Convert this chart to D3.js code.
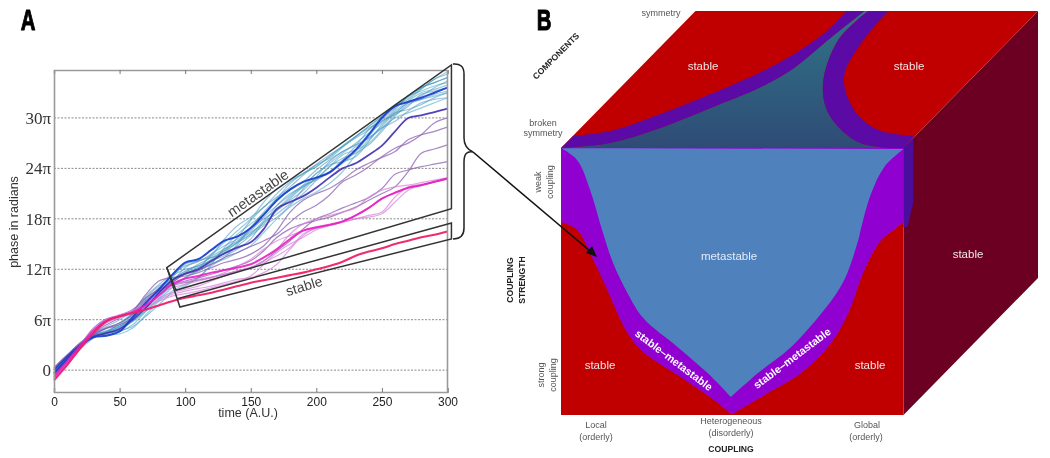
<!DOCTYPE html>
<html><head><meta charset="utf-8">
<script src="https://cdnjs.cloudflare.com/ajax/libs/d3/7.8.5/d3.min.js"></script>
<style>html,body{margin:0;padding:0;background:#fff}svg{display:block;filter:blur(.4px)}</style></head>
<body><svg id="c" width="1050" height="458"></svg>
<script>
// ---------- PANEL A DATA (phase in units of pi, sampled every 10 A.U.) ----------
const timeGrid = d3.range(31).map(i => i * 10);
const xTicks = [0, 50, 100, 150, 200, 250, 300];
const yTicks = [0, 6, 12, 18, 24, 30];

const cyanLines = [
 [-0.2,1.4,3,4.1,4.2,4.3,5,6.6,8.2,9.4,10.2,11,12.6,14.6,16.2,17.4,18.6,20.4,22.2,23.4,24.2,25.4,26.7,27.8,29,30.2,31.3,32.4,33.5,34.6,35.5],
 [0.1,1.7,3.2,4.2,4.6,5.2,6.6,8.4,9.8,11.2,12,12.4,13.6,15.6,17.2,18.2,19.4,21,22.4,23.4,24.5,25.6,26.6,27.6,28.6,29.8,31.2,32.6,33.6,34.2,34.8],
 [-0.5,1.1,2.9,4,4.5,5.6,6.8,8.3,9.4,10.6,11.4,12.2,13.2,14.2,15.8,17.8,19.4,20.6,21.8,23.2,24.4,25.2,26.5,27.8,28.8,29.6,31,32.6,33.6,34.2,34.8],
 [0.3,1.8,3.2,4.2,5,5.6,6.6,8.4,9.7,11,12.6,13,13.6,14.4,15.2,16.2,17.8,19.2,20.6,22,23.4,24.6,25.8,27,28.2,29.4,30.8,32,33,33.4,33.9],
 [-0.3,1.4,3,4.4,5,5.2,6.2,7.8,9.2,10.6,11.8,12.4,13,13.6,14.4,15.6,17.6,18.6,19.8,21,22.6,24.2,25.2,25.8,26.8,28.4,30.2,31.6,32.2,32.8,33.2],
 [-0.9,0.9,2.5,3.8,4.6,5.1,6.2,7.6,8.8,10.4,12.2,13,13.4,13.8,14.8,16,17.2,18.2,19.6,21.6,23.4,24.4,24.8,25.4,27.2,29.2,30.6,31,31.6,32.4,33],
 [0,1.6,3.1,4.3,4.4,4.6,5.4,7,8.6,10,11,12,13.8,15.2,16.6,18,20,21.6,22.6,23.4,24.2,25.4,26.6,27.8,29,30.2,31.6,32.6,33.2,33.8,34.2],
 [0.2,1.7,3.3,4.4,5.2,6,7,8.8,10.2,11.4,12.4,12.9,13.8,14.8,15.6,16.6,18.2,19.6,20.8,22,22.6,23.6,25,26.6,27.6,28.8,29.6,30.8,31.8,32.2,32.4],
 [-0.1,1.5,3,4,4.3,4.8,5.8,7.2,9,10.4,11.6,12.6,13.4,14.2,15.2,17,18.8,20.4,21.4,22.4,23.8,25,26,26.8,28.6,30,31.4,32.2,33.4,34.6,35.2],
 [-0.6,1,2.8,3.9,4.4,5,5.8,7,8.4,9.8,11,11.8,12.6,13.2,14,14.8,16.4,18,19.4,20.4,21.2,22.2,23.6,25.6,27.4,28.8,30,30.6,31.2,31.8,32.4],
 [-0.2,1.5,3.1,4.2,4.4,4.7,5.2,6.4,7.8,9.2,10,11,12.4,13.4,15,16.8,18,19,20.2,21.4,23,24.8,26,26.8,27.6,29,30.6,31.8,32.6,33.6,34.4],
 [0.1,1.6,3,4.2,4.7,5.4,6.8,8.6,10,10.8,11.4,11.8,12.8,14.4,15.4,16.4,17.4,19,20.4,21.8,22.8,23.6,24.6,26,27.8,29.6,30.4,31.4,32.8,33.2,33.6],
 [-0.4,1.2,2.9,4,4.6,5.2,6.4,8,9.6,10.8,11.7,12.2,12.9,14,15.2,16.2,17.6,19.6,21,21.8,22.8,24.2,25.6,26.2,27,28.6,30.4,31.8,32.2,32.6,33]
];
const purpleLines = [
 [-0.5,1.2,2.9,4.2,5,5.4,6.2,7.8,9.4,10.4,11.4,11.9,12.6,13.4,14,14.7,15.4,16.2,17.6,18.8,19.6,20.8,22.4,23.2,24.2,25.4,26.4,27,28,29.4,30],
 [-0.3,1.4,3,4.4,5.4,6.2,7,9,10.6,11,11.2,11.6,12.2,12.8,13.2,13.8,14.8,16.6,18.8,20.2,21,21.6,22.6,23.8,24.6,25.3,26,27.4,28,28.4,28.9],
 [0.3,1.8,3.2,4.2,5,5.6,6.6,8.2,9.4,10.2,10.6,11,11.4,11.9,12.4,13,14.2,15.8,16.8,17.4,17.8,18.2,18.8,19.4,20.2,21,21.8,23.6,25.8,26.3,26.8],
 [-0.6,1.1,3,5,6.1,6.5,7.2,8.6,9.6,10.1,10.4,10.7,11,11.4,11.8,12.2,13,14.2,15.4,16.8,18,18.6,19.3,19.9,20.5,21.6,23.3,23.8,24.2,24.5,24.8]
];
const lilacLines = [
 [-1,0.9,2.9,4.7,6,6.6,7,8.2,9.6,10.2,10.5,10.8,11.1,11.4,11.8,12.2,13,14.4,16.2,17.4,18,18.4,18.8,19.3,20.6,21.4,21.8,22,22.3,22.6,22.9],
 [-0.7,1,2.9,4.8,6,6.5,7,8,9,9.8,10.2,10.6,11,11.6,12.4,13.2,14.4,15.4,16,16.6,16.9,17.2,17.6,18,18.4,18.8,20.6,21.8,22.1,22.4,22.8],
 [-0.9,0.9,2.8,4.6,5.8,6.4,6.9,7.8,8.6,9.2,9.6,10,10.6,11.2,11.8,12.2,12.8,13.6,14.6,16.2,16.9,17.2,17.6,18,18.2,18.6,20,21.4,22,22.4,22.7],
 [-0.8,1,2.8,4.5,5.7,6.4,6.9,7.6,8.4,9,9.4,9.7,10,10.4,10.8,11,11.6,12.6,14.4,16,16.9,17.2,17.7,18.4,19.3,20.4,21.1,21.7,22,22.4,22.8],
 [-1,0.7,2.7,4.4,5.6,6.3,6.9,7.5,8.2,8.8,9.1,9.4,9.8,10.2,10.6,11.2,12.6,14,15,15.8,16.7,17.2,17.7,18.4,19.3,20.4,21.1,21.7,22,22.4,22.8]
];
const blueUpper  = [-0.4,1.3,2.8,3.9,4.1,4.6,6.3,8,9.6,11.3,12.8,13.2,14.3,15.4,15.9,16.9,18.5,20.2,21.5,22.4,22.9,23.5,24.8,26.2,28,30,31.4,31.9,32.4,33,33.6];
const blueLower  = [0,1.6,3,4,4.4,4.9,6,7.4,9.2,10.7,11.5,12,13,13.9,14.6,15.2,16.8,19.2,20,20.7,21.7,22.9,24,24.6,25.6,26.7,28.4,30,30.3,30.7,31.1];
const magenta    = [-0.8,1,2.9,4.7,5.9,6.4,6.9,7.7,8.9,10.2,10.9,11.2,11.6,11.9,12.2,12.6,13.4,14.4,15.6,16.6,17,17.3,17.7,18.4,19.3,20.4,21.1,21.7,22,22.4,22.8];
const stableLine = [-1.2,0.6,2.6,4.4,5.8,6.4,6.8,7.2,7.7,8.2,8.6,8.9,9.2,9.6,10,10.4,10.7,11,11.3,11.6,12,12.4,12.9,13.6,14.1,14.5,15,15.4,15.8,16.1,16.5];

// annotation geometry in chart units [time, phase]
const metaWedge = [[86,12.2],[303,36.3],[303,19.2],[93,9.5]];
const stableBox = [[94,8.5],[303,17.5],[303,15.6],[96,7.5],[86,12.2]];

// ---------- PANEL B DATA (cube coordinates, 0-1 on each edge) ----------
const redLeft  = [[0,.723],[.047,.693],[.094,.581],[.135,.468],[.194,.307],[.24,.236],[.349,.142],[.446,.056],[.496,.004]];
const redRight = [[.501,.004],[.604,.082],[.701,.157],[.789,.27],[.839,.382],[.886,.543],[.935,.655],[.971,.693],[1,.723]];
const blueLeft = [[0,1],[.047,.955],[.085,.843],[.12,.693],[.152,.569],[.194,.457],[.24,.363],[.34,.255],[.428,.157],[.496,.067]];
const blueRight= [[.496,.067],[.575,.157],[.672,.255],[.768,.393],[.827,.506],[.868,.655],[.877,.704],[.906,.831],[.944,.929],[1,.996]];
const topRedA  = [[.001,.088],[.095,.124],[.193,.248],[.282,.394],[.366,.555],[.411,.686],[.442,.861],[.44,1]];
const topPurA  = [[0,0],[.129,.036],[.233,.146],[.322,.292],[.409,.445],[.451,.584],[.47,.788],[.493,1]];
const topPurB  = [[.504,1],[.5,.788],[.579,.474],[.68,.255],[.833,.058],[.924,.007],[1,0]];
const topRedB  = [[.563,1],[.576,.766],[.623,.518],[.747,.277],[.875,.131],[.998,.088]];
const sideStrip= [[0,1],[.074,1],[.074,.76],[.03,.689],[0,.704]];

const svg = d3.select('#c');
const defs = svg.append('defs');
const tg = defs.append('linearGradient').attr('id','topBlue').attr('x1',0).attr('x2',0).attr('y1',0).attr('y2',1);
tg.append('stop').attr('offset',0).attr('stop-color','#2f7488');
tg.append('stop').attr('offset',1).attr('stop-color','#2f4b75');

// ---------- PANEL A ----------
const x = d3.scaleLinear().domain([0,300]).range([54,447.5]);
const y = d3.scaleLinear().domain([-2.6,35.7]).range([392,70]);
const A = svg.append('g');
const serif = '"Liberation Serif",serif', sans = '"Liberation Sans",Arial,sans-serif';

A.append('g').selectAll('line').data(yTicks).join('line')
  .attr('x1',x(0)).attr('x2',x(300)).attr('y1',d=>y(d)).attr('y2',d=>y(d))
  .attr('stroke','#8a8a8a').attr('stroke-width',1).attr('stroke-dasharray','2 1.5');

const lineGen = d3.line().x((d,i)=>x(timeGrid[i])).y(d=>y(d)).curve(d3.curveCatmullRom.alpha(.5));
const L = A.append('g').attr('fill','none');
const draw = (arr,col,w,op)=>L.append('path').attr('d',lineGen(arr)).attr('stroke',col).attr('stroke-width',w).attr('stroke-opacity',op);
cyanLines.forEach((s,i)=>draw(s, i%3==0?'#3fa6c4':(i%3==1?'#4f8fc8':'#3f8fb0'),1.2,.55));
purpleLines.forEach(s=>draw(s,'#8a5fb0',1.2,.75));
lilacLines.forEach(s=>draw(s,'#d67fd8',1.2,.7));
draw(blueLower,'#3f2fb0',1.8,.9);
draw(blueUpper,'#1c3fd0',2,.95);
draw(magenta,'#e81fc0',2,.9);
draw(stableLine,'#f0206a',2.1,.95);

// axes
const axB = d3.axisBottom(x).tickValues(xTicks).tickSize(-4).tickPadding(5).tickFormat(d3.format('d'));
const axT = d3.axisTop(x).tickValues(xTicks).tickSize(-4).tickFormat('');
const axL = d3.axisLeft(y).tickValues(yTicks).tickSize(0).tickPadding(3).tickFormat(d=>d===0?'0':d+'π');
const styleAx = g=>{g.selectAll('path.domain').attr('stroke','#9a9a9a').attr('stroke-width',1.6);g.selectAll('line').attr('stroke','#777').attr('stroke-width',1);};
A.append('g').attr('transform','translate(0,392)').call(axB).call(styleAx)
  .selectAll('text').attr('font-family',sans).attr('font-size',12).attr('fill','#222');
A.append('g').attr('transform','translate(0,70)').call(axT).call(styleAx);
A.append('g').attr('transform','translate(54,0)').call(axL).call(styleAx)
  .selectAll('text').attr('font-family',serif).attr('font-size',17).attr('fill','#333');
A.append('line').attr('x1',x(300)).attr('x2',x(300)).attr('y1',70).attr('y2',392).attr('stroke','#9a9a9a').attr('stroke-width',1.6);

// annotation polygons
const ann = d3.line().x(d=>x(d[0])).y(d=>y(d[1]));
const annG = A.append('g').attr('fill','none').attr('stroke','#333').attr('stroke-width',1.5).attr('stroke-linejoin','miter');
annG.append('path').attr('d',ann(metaWedge)+'Z');
annG.append('path').attr('d',ann(stableBox));

const txt=(g,s,px,py,o={})=>g.append('text').text(s)
  .attr('transform',`translate(${px},${py}) rotate(${o.r||0})`)
  .attr('text-anchor',o.a||'middle').attr('dominant-baseline','central')
  .attr('font-family',o.f||sans).attr('font-size',o.s||12).attr('font-weight',o.w||'normal')
  .attr('fill',o.c||'#222');
txt(A,'phase in radians',14,222,{r:-90,s:12.5,c:'#333'});
txt(A,'time (A.U.)',248,413,{s:12.5,c:'#333'});
txt(A,'metastable',258,193,{r:-35,s:14.5,c:'#444'});
txt(A,'stable',304,286,{r:-17,s:14,c:'#444'});
txt(svg,'A',28,19,{s:30,w:'bold',c:'#000'}).attr('stroke','#000').attr('stroke-width',1).attr('transform','translate(28,19) scale(.68,1)');
txt(svg,'B',544,19,{s:30,w:'bold',c:'#000'}).attr('stroke','#000').attr('stroke-width',1).attr('transform','translate(544,19) scale(.68,1)');

// brace + arrow
A.append('path').attr('d','M453,64 Q464,63 464,74 L464,138 Q464,148 473,152 Q464,150 464,162 L464,228 Q464,239 453,239')
  .attr('fill','none').attr('stroke','#222').attr('stroke-width',1.5);

// ---------- PANEL B ----------
const cx = d3.scaleLinear().domain([0,1]).range([561,903.5]);
const cs = d3.scaleLinear().domain([0,1]).range([415,148]);
const frontP = d=>[cx(d[0]),cs(d[1])];
const topP   = d=>[cx(d[0])+134.5*d[1],148-137*d[1]];
const sideP  = d=>[903.5+134.5*d[0],cs(d[1])-137*d[0]];
const curve = d3.line().curve(d3.curveCatmullRom.alpha(.5));
const path = (pts,proj)=>curve(pts.map(proj));
const cont = s=>s.replace(/^M/,'L');
const B = svg.append('g');
const poly=(d,f)=>B.append('path').attr('d',d).attr('fill',f);
const rev = a=>a.slice().reverse();

// faces
poly(d3.line()([[0,0],[1,0],[1,1],[0,1]].map(sideP))+'Z','#6b0022');
poly(d3.line()([[0,0],[1,0],[1,1],[0,1]].map(topP))+'Z','#c00000');
poly(d3.line()([[0,0],[1,0],[1,1],[0,1]].map(frontP))+'Z','#c00000');
// top face regions
poly(path(topPurA,topP)+cont(path(topPurB,topP))+'Z','url(#topBlue)');
poly(path(topRedA,topP)+cont(path(rev(topPurA),topP))+'Z','#5b0aa5');
poly(path(topPurB,topP)+cont(path(rev(topRedB),topP))+'Z','#5b0aa5');
// front face regions
const frontBound = path(redLeft,frontP)+cont(path(redRight,frontP));
poly(frontBound+'L'+frontP([1,1]).join(',')+'L'+frontP([0,1]).join(',')+'Z','#9000d0');
poly(path(blueLeft,frontP)+cont(path(blueRight,frontP))+'Z','#4f81bd');
// side strip
poly(d3.line()(sideStrip.map(sideP))+'Z','#4b0d9c');

// arrow
B.append('line').attr('x1',473).attr('y1',152).attr('x2',590).attr('y2',251).attr('stroke','#111').attr('stroke-width',1.6);
B.append('path').attr('d','M597,257 L586,253 L592,246 Z').attr('fill','#111');

const w='#f2e6e6';
txt(B,'stable',703,66,{c:w,s:11.5});
txt(B,'stable',909,66,{c:w,s:11.5});
txt(B,'metastable',729,256,{c:'#e4ecf6',s:11.5});
txt(B,'stable',968,254,{c:w,s:11.5});
txt(B,'stable',600,365,{c:w,s:11.5});
txt(B,'stable',870,365,{c:w,s:11.5});
txt(B,'stable\u2013metastable',674,360,{c:'#fff',s:10.8,w:'bold',r:37});
txt(B,'stable\u2013metastable',792,358,{c:'#fff',s:10.8,w:'bold',r:-37});
const g='#555';
txt(B,'symmetry',661,13,{c:g,s:9});
txt(B,'broken',543,123,{c:g,s:9});
txt(B,'symmetry',543,133,{c:g,s:9});
txt(B,'COMPONENTS',556,56,{c:'#222',s:8.6,w:'bold',r:-45});
txt(B,'weak',538,182,{c:g,s:9,r:-90});
txt(B,'coupling',550,182,{c:g,s:9,r:-90});
txt(B,'strong',541,375,{c:g,s:9,r:-90});
txt(B,'coupling',553,375,{c:g,s:9,r:-90});
txt(B,'COUPLING',510,280,{c:'#222',s:8.6,w:'bold',r:-90});
txt(B,'STRENGTH',522,280,{c:'#222',s:8.6,w:'bold',r:-90});
txt(B,'Local',596,425,{c:g,s:9});
txt(B,'(orderly)',596,437,{c:g,s:9});
txt(B,'Heterogeneous',731,421,{c:g,s:9});
txt(B,'(disorderly)',731,433,{c:g,s:9});
txt(B,'COUPLING',731,449,{c:'#222',s:8.6,w:'bold'});
txt(B,'Global',867,425,{c:g,s:9});
txt(B,'(orderly)',866,437,{c:g,s:9});
</script></body></html>
